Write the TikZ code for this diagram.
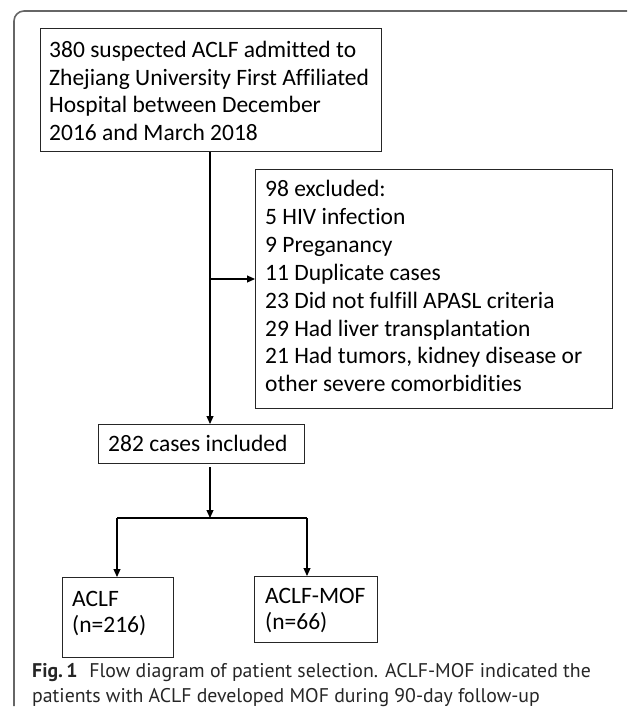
\documentclass[tikz,border=0pt]{standalone}
\usepackage{fontspec}
\setmainfont{Carlito}[Ligatures=NoCommon]
\newfontfamily\capfont{PT Sans}
\usetikzlibrary{arrows.meta}
\begin{document}
\begin{tikzpicture}[x=1pt,y=1pt,
  box/.style={draw=black!85, line width=1.2pt, anchor=north west, inner xsep=0pt, inner ysep=0pt},
  txt/.style={anchor=north west, inner sep=0pt, align=left, font=\fontsize{23.5}{27.8}\selectfont},
  conn/.style={draw=black, line width=1.1pt},
  arr/.style={conn, -{Triangle[length=8pt,width=7pt]}},
  frame/.style={draw=black!60, line width=1.6pt}]
\useasboundingbox (0,0) rectangle (627,-710);
% outer frame
\draw[frame] (14,-706) -- (14,-21) arc[start angle=180,end angle=90,radius=10] -- (627,-11);
% boxes
\node[box, minimum width=341, minimum height=123] (b1) at (40,-28) {};
\node[txt, font=\fontsize{23.5}{27.5}\selectfont] (t1) at (49,-41)
  {380 suspected ACLF admitted to\\Zhejiang University First Affiliated\\Hospital between December\\2016 and March 2018};
\node[box, minimum width=357, minimum height=239] (ex) at (255,-169) {};
\node[txt, font=\fontsize{23.5}{27.9}\selectfont] (tex) at (265,-180)
  {98 excluded:\\5 HIV infection\\9 Preganancy\\11 Duplicate cases\\23 Did not fulfill APASL criteria\\29 Had liver transplantation\\21 Had tumors, kidney disease or\\other severe comorbidities};
\node[box, minimum width=206, minimum height=39] (inc) at (98,-424) {};
\node[txt, anchor=west] (tinc) at (108,-443) {282 cases included};
\node[box, minimum width=111, minimum height=80] (aclf) at (62,-577) {};
\node[txt, font=\fontsize{23.5}{26.5}\selectfont] (taclf) at (72,-591) {ACLF\\(n=216)};
\node[box, minimum width=123, minimum height=66] (mof) at (254,-576) {};
\node[txt, font=\fontsize{23.5}{26.5}\selectfont] (tmof) at (265,-588) {ACLF-MOF\\(n=66)};
% coordinates
\coordinate (xl) at (210,0);
\coordinate (j1) at (210,-279);
\coordinate (sp) at (210,-518);
\coordinate (spl) at (117,-518);
\coordinate (spr) at (307,-518);
% connectors
\draw[arr] (b1.south -| xl) -- (inc.north -| xl);
\draw[arr] (j1) -- (j1 -| ex.west);
\draw[arr, shorten <=3pt] (inc.south -| xl) -- (sp);
\draw[conn] (spl) -- (spr);
\draw[arr] (spl) -- (aclf.north -| spl);
\draw[arr] (spr) -- (mof.north -| spr);
% caption
\node[anchor=north west, inner sep=0pt, align=left, text=black!85, font=\capfont\fontsize{19.8}{25}\selectfont] (cap) at (32,-663)
  {\textbf{Fig.\,1}\hspace{0.6em}Flow diagram of patient selection. ACLF-MOF indicated the\\patients with ACLF developed MOF during 90-day follow-up};
\end{tikzpicture}
\end{document}
